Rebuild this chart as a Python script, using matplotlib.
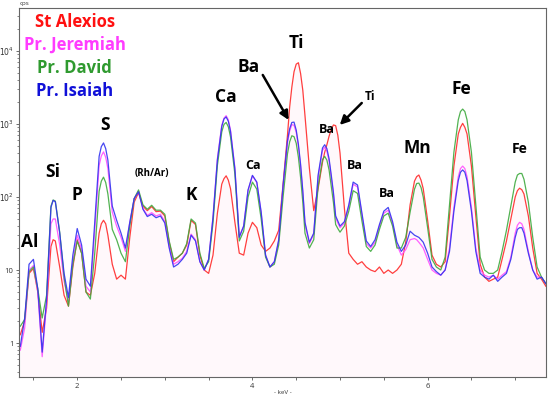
"""
XRF spectra of four icons (St Alexios, Pr. Jeremiah, Pr. David, Pr. Isaiah),
counts per second vs energy on a log axis, with element peaks labelled.
"""

import numpy as np
import matplotlib.pyplot as plt
from matplotlib.ticker import FixedLocator, FixedFormatter, LogLocator, NullFormatter

plt.rcParams['font.family'] = ['Open Sans', 'DejaVu Sans']

# --- Data (cps, 0.05 keV channels) ---
energy = np.linspace(1.35, 7.35, 121)

st_alexios = [
    1.3, 2.0, 9, 10.5, 5, 1.4, 3, 21, 25, 11,
    4.5, 3.2, 11, 26, 17, 5, 4.5, 9, 32, 48,
    30, 12, 7.5, 8.5, 7.5, 28, 85, 115, 75, 65,
    74, 63, 64, 55, 24, 13, 15, 17, 22, 48,
    42, 16, 10, 9, 16, 60, 150, 195, 130, 45,
    17, 16, 32, 45, 38, 22, 18, 20, 25, 35,
    150, 700, 3200, 6600, 4900, 1300, 250, 65, 130, 300,
    520, 850, 950, 400, 70, 17, 14, 12, 13, 11,
    10, 9.5, 11, 9, 10, 9, 10, 12, 24, 78,
    165, 200, 130, 48, 16, 12, 11, 13, 55, 265,
    730, 1020, 730, 265, 55, 12, 8, 7, 7.5, 8,
    14, 25, 50, 100, 132, 110, 55, 20, 9, 7.5,
    6,
]

jeremiah = [
    0.8, 1.6, 10, 11.5, 5, 0.65, 3.5, 43, 50, 22,
    7, 3.8, 13, 30, 19, 6, 5, 35, 270, 415,
    245, 62, 40, 28, 18, 45, 95, 120, 70, 56,
    61, 55, 58, 46, 21, 12, 13, 14.5, 18, 31,
    26, 13, 10, 14, 54, 335, 960, 1300, 820, 250,
    29, 40, 122, 195, 158, 60, 16, 11, 13, 25,
    135, 550, 980, 770, 260, 43, 23, 31, 185, 435,
    425, 185, 52, 38, 44, 74, 150, 137, 56, 23,
    20, 24, 40, 60, 66, 43, 22, 16, 19, 26,
    27, 24, 20, 14, 10, 9, 8.5, 10, 20, 72,
    190, 265, 190, 72, 20, 10, 8.5, 8, 8.5, 7.5,
    8.5, 9.5, 15, 32, 45, 36, 18, 10, 8, 8,
    6.5,
]

david = [
    1.7, 2.1, 9.5, 11, 5.5, 2.2, 4.5, 75, 88, 33,
    8, 3.2, 12, 25, 17, 5, 4, 17, 120, 187,
    110, 36, 26, 17, 13, 40, 95, 125, 78, 68,
    77, 66, 66, 58, 25, 14, 15, 17, 23, 50,
    44, 17, 10.5, 13, 44, 270, 780, 1050, 665, 205,
    25, 34, 100, 160, 128, 50, 15, 11, 12, 22,
    100, 390, 690, 545, 185, 32, 20, 26, 140, 325,
    320, 140, 42, 33, 40, 64, 122, 112, 47, 21,
    18, 22, 36, 55, 60, 40, 20, 20, 28, 62,
    128, 155, 100, 38, 14, 11, 10, 15, 80, 410,
    1140, 1600, 1140, 410, 80, 15, 10, 9, 9, 10,
    18, 35, 75, 160, 210, 175, 85, 28, 11, 8,
    6.5,
]

isaiah = [
    0.9, 2.2, 12, 14, 5.5, 0.75, 4, 72, 86, 32,
    9, 4.2, 16, 37, 22, 7.5, 6, 45, 360, 550,
    320, 75, 48, 32, 20, 45, 95, 118, 68, 54,
    58, 52, 55, 44, 20, 11, 12, 14, 17, 30,
    25, 13, 10, 14, 52, 320, 925, 1250, 790, 240,
    28, 40, 125, 198, 160, 62, 16, 11, 13, 26,
    145, 590, 1050, 825, 280, 45, 24, 32, 200, 470,
    460, 200, 55, 40, 46, 78, 160, 146, 60, 25,
    21, 26, 42, 64, 72, 46, 24, 18, 22, 34,
    30, 28, 24, 17, 11, 9.5, 8.5, 10, 18, 64,
    168, 235, 168, 64, 18, 9, 8, 7.5, 8.5, 7,
    8, 9, 14, 28, 38, 32, 17, 10, 7.5, 8,
    6.5,
]

# extra half-channel readings around the sharper peaks
energy_extra = [1.725, 2.275, 2.325, 3.675, 3.725, 4.425, 4.475, 4.525, 4.575,
                4.825, 4.875, 4.925, 4.975, 5.875, 5.925, 6.375, 6.425, 7.025, 7.075]
st_alexios_extra = [26, 43, 43, 178, 170, 1700, 5200, 6900, 2900,
                    410, 680, 970, 700, 190, 170, 900, 900, 122, 126]
jeremiah_extra = [50, 365, 350, 1200, 1140, 800, 960, 490, 115,
                  480, 310, 108, 44, 26, 22, 245, 245, 41, 43]
david_extra = [91, 165, 158, 985, 915, 570, 670, 350, 85,
               360, 235, 84, 37, 153, 135, 1480, 1480, 200, 210]
isaiah_extra = [90, 490, 460, 1170, 1090, 860, 1060, 525, 122,
                520, 335, 115, 47, 29, 26, 218, 218, 36, 38]

names = ['St Alexios', 'Pr. Jeremiah', 'Pr. David', 'Pr. Isaiah']
line_colors = ['#ff2a2a', '#ff50ff', '#3faa3f', '#3333f0']
text_colors = ['#ff1010', '#ff3cff', '#2f9a2f', '#1010d8']

x_ticks = [1.5, 2.0, 2.5, 3.0, 3.5, 4.0, 4.5, 5.0, 5.5, 6.0, 6.5, 7.0]
x_ticklabels = ['', '2', '', '', '', '4', '', '', '', '6', '', '']
y_ticks = [1, 10, 100, 1000, 10000]
y_ticklabels = ['1', '10', '$10^2$', '$10^3$', '$10^4$']

# merge main channels and extra readings
e_all = np.concatenate([energy, energy_extra])
order = np.argsort(e_all)
e_all = e_all[order]
series = [np.concatenate([m, x])[order] for m, x in [
    (st_alexios, st_alexios_extra), (jeremiah, jeremiah_extra),
    (david, david_extra), (isaiah, isaiah_extra)]]

# --- Plot ---
fig = plt.figure(figsize=(5.5, 3.99), dpi=100)
ax = fig.add_axes([0.0345, 0.055, 0.958, 0.925])

ax.fill_between(e_all, series[0], 0.3, color='#ffd0e4', alpha=0.13, lw=0, zorder=1)
for vals, col in zip(series, line_colors):
    ax.plot(e_all, vals, color=col, lw=0.9, alpha=0.9, zorder=2)

ax.set_yscale('log')
ax.set_xlim(1.335, 7.35)
ax.set_ylim(0.342, 38800)

ax.xaxis.set_major_locator(FixedLocator(x_ticks))
ax.xaxis.set_major_formatter(FixedFormatter(x_ticklabels))
ax.yaxis.set_major_locator(FixedLocator(y_ticks))
ax.yaxis.set_major_formatter(FixedFormatter(y_ticklabels))
ax.yaxis.set_minor_locator(LogLocator(base=10, subs=np.arange(2, 10)))
ax.yaxis.set_minor_formatter(NullFormatter())
ax.tick_params(axis='both', which='major', labelsize=5.5, length=2.5,
               width=0.6, color='#555555', labelcolor='#333333', pad=1.5)
ax.tick_params(axis='y', which='minor', length=1.5, width=0.5, color='#555555')
for sp in ax.spines.values():
    sp.set_color('#666666')
    sp.set_linewidth(0.8)

# Sample names
name_y = [24900, 12100, 5850, 2830]
for name, col, yy in zip(names, text_colors, name_y):
    ax.text(1.97, yy, name, color=col, fontsize=12, fontweight='bold',
            ha='center', va='center')

# Element labels: (label, energy, cps, size)
labels = [
    ('Al', 1.458, 24, 12.5), ('Si', 1.72, 220, 12.5), ('P', 1.994, 106, 12.5),
    ('S', 2.314, 968, 12.5), ('(Rh/Ar)', 2.85, 213, 7), ('K', 3.307, 106, 12.5),
    ('Ca', 3.695, 2345, 12.5), ('Ca', 4.003, 274, 9), ('Ba', 3.958, 6040, 12.5),
    ('Ti', 4.506, 12900, 12.5), ('Ti', 5.339, 2345, 8.5), ('Ba', 4.848, 828, 9),
    ('Ba', 5.168, 274, 9), ('Ba', 5.533, 113, 9), ('Mn', 5.887, 469, 12.5),
    ('Fe', 6.389, 3010, 12.5), ('Fe', 7.051, 455, 10),
]
for lab, ex, cy, fs in labels:
    ax.text(ex, cy, lab, fontsize=fs, fontweight='bold', color='black',
            ha='center', va='center', zorder=4)

arrow = dict(arrowstyle='-|>', color='black', lw=1.8, mutation_scale=13,
             shrinkA=0, shrinkB=0)
ax.annotate('', xy=(4.414, 1135), xytext=(4.118, 4690), arrowprops=arrow, zorder=4)
ax.annotate('', xy=(4.997, 970), xytext=(5.248, 1940), arrowprops=arrow, zorder=4)

fig.text(25 / 550, 1 - 4 / 399, 'cps', fontsize=4.5, color='#333333',
         va='center', ha='center')
fig.text(283 / 550, 1 - 392 / 399, '- keV -', fontsize=4.5, color='#333333',
         va='center', ha='center')

fig.savefig('out.png', dpi=100)
plt.close(fig)
